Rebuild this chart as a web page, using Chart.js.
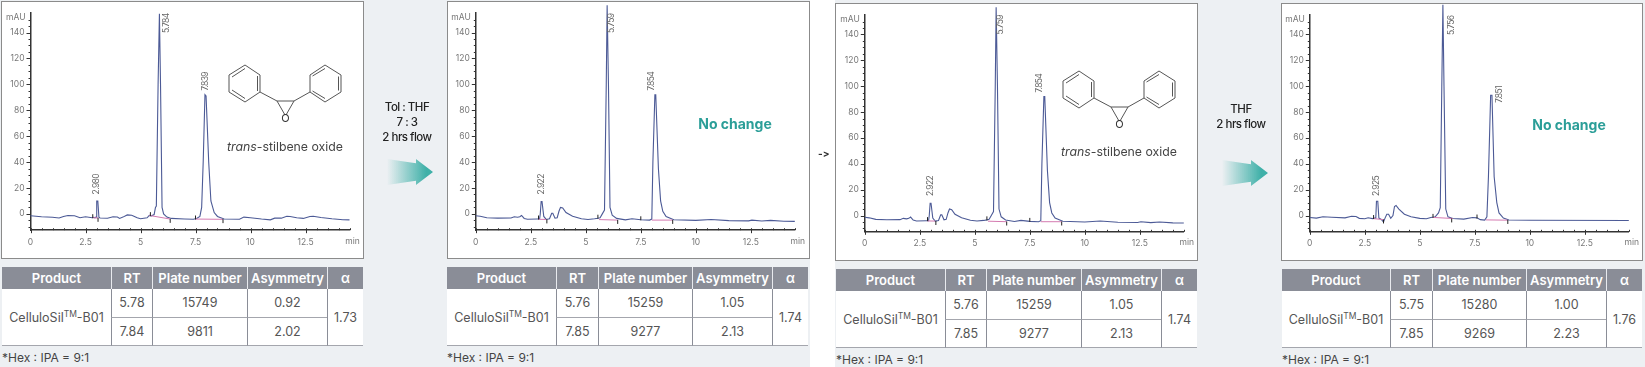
<!DOCTYPE html>
<html lang="en">
<head>
<meta charset="UTF-8">
<title>CelluloSil-B01 solvent flow test</title>
<script src="https://cdn.jsdelivr.net/npm/chart.js"></script>
<style>
  html, body { margin: 0; padding: 0; background: #fff; font-family: Inter, 'Noto Sans', sans-serif; }
  body { width: 1645px; height: 367px; position: relative; overflow: hidden; }
  .bg { position: absolute; top: 0; height: 367px; background: #edf0f3; }
  .panel { position: absolute; background: #fff; border: 1.5px solid #8b8b8b; box-sizing: border-box; }
  .panel canvas { position: absolute; left: 0; top: 0; }
  table { position: absolute; border-collapse: separate; border-spacing: 0; table-layout: fixed; background: #fff; font-size: 12.5px; color: #555; text-align: center; }
  th { box-sizing: border-box; background: #8a8d97; color: #fff; font-weight: 600; font-size: 13px; height: 22px; padding: 0; border-left: 1.5px solid #e8eaee; white-space: nowrap; overflow: hidden; }
  th:first-child { border-left: 0; }
  td { box-sizing: border-box; padding: 0; height: 28.5px; border-left: 1.5px solid #8a8d97; border-bottom: 1.5px solid #a4a6ad; white-space: nowrap; }
  td.product { border-left: 0; }
  sup { font-size: 8.5px; line-height: 0; }
  .note { position: absolute; font-size: 12px; color: #444; line-height: 14px; white-space: nowrap; }
  .flow { position: absolute; width: 90px; text-align: center; font-size: 11.5px; font-weight: 500; line-height: 15px; color: #222; letter-spacing: -0.5px; }
  .arrow { position: absolute; width: 46px; height: 26px; background: linear-gradient(90deg, rgba(63,176,168,0), #3fb0a8 85%); clip-path: polygon(0 0, 63% 16%, 63% 0, 100% 50%, 63% 100%, 63% 84%, 0 100%); }
  .nochange { position: absolute; width: 120px; text-align: center; font-size: 14px; font-weight: 700; color: #2b9e98; line-height: 18px; }
  .caption { position: absolute; width: 150px; text-align: center; font-size: 12.3px; color: #444; line-height: 16px; }
  .mol { position: absolute; }
  .sep { position: absolute; font-size: 10px; font-weight: 700; color: #333; line-height: 10px; font-feature-settings: 'calt' 0; }
</style>
</head>
<body>
<div class="bg" style="left:0;width:810px"></div>
<div class="bg" style="left:835px;width:810px"></div>

<svg width="0" height="0" style="position:absolute">
  <defs>
    <g id="stilbene" fill="none" stroke="#555" stroke-width="1">
      <path d="M2 20 L18 10 L33 20 L33 37 L18 47 L2 37 Z"/>
      <path d="M5 22 L18 13.5 M30.5 21 L30.5 36 M5 35 L18 43.5"/>
      <path d="M83 20 L98 10 L114 20 L114 37 L98 47 L83 37 Z"/>
      <path d="M85.500 21 L98 13.500 M111.500 21.500 L111.500 35.500 M85.500 36 L98 43.500"/>
      <path d="M33 37 L50 46 L67 46 L83 37 M50 46 L58 60 M67 46 L59 60"/>
      <text x="58.500" y="67" font-size="11" fill="#333" stroke="none" text-anchor="middle">O</text>
    </g>
  </defs>
</svg>

<script>
// retention time (min) / signal (mAU)
const timeA = [0,0.5,1,1.3,1.5,1.7,2,2.25,2.5,2.8,2.88,2.93,2.98,3.01,3.06,3.11,3.16,3.5,3.75,3.95,4.05,4.2,4.4,4.6,4.85,5,5.3,5.4,5.5,5.62,5.68,5.72,5.8,5.86,5.91,5.98,6.05,6.2,6.4,7,7.4,7.55,7.7,7.78,7.85,7.93,7.98,8.1,8.2,8.35,8.5,8.8,9.5,9.7,10,10.5,10.9,11.1,11.4,11.65,11.8,12.1,12.4,12.7,12.85,13.2,13.7,14.2,14.5];
const signalA = [-1.5,-2.2,-2.6,-3.2,-2,-1.2,-1.5,-3,-2.2,-3,-2.6,-3,-2.5,10,10,-2.5,-3.2,-3.4,-2.2,-2.4,-3.5,-2.5,-0.8,-1,-3,-3.7,-3,-1.2,-1.5,-0.5,5,6,100,154.5,100,5,0,-2.5,-3.5,-3.9,-4.2,-3.5,-2,5,40,92,91,40,10,1,-2,-4,-4.2,-2.5,-3,-4,-4.6,-3.3,-3.3,-1.8,-2,-3,-3.5,-2,-1.8,-2.8,-3.8,-4.5,-4.6];

const timeB = [0,0.2,0.5,1,1.6,1.75,1.9,2,2.08,2.2,2.35,2.8,2.9,2.93,2.97,3.01,3.09,3.2,3.35,3.45,3.5,3.6,3.7,3.78,3.85,3.95,4.1,4.4,4.8,5.1,5.4,5.55,5.65,5.75,5.85,5.93,5.97,6.03,6.1,6.2,6.4,6.8,7.1,7.5,7.9,8,8.05,8.14,8.18,8.3,8.4,8.5,8.65,9,10,10.7,11.5,12.4,12.55,13,13.4,14,14.5];
const signalB = [-1.4,-1.8,-3,-3.3,-3.2,-2.2,-2.6,-2.2,-1.2,-3.5,-4.2,-4,-4,0,9.5,9.5,-2,-4.3,-3.8,0.5,0.5,-3.3,-3,2,5,4.5,1,-1.8,-3.7,-4.3,-3.8,-3.4,-3,0,3,100,161,100,5,-1,-3.5,-4.6,-3.8,-4.5,-4.8,-4,40,92,92,35,10,2,-2,-4.5,-5,-4.3,-5.2,-5.4,-4.8,-5.5,-5,-5.7,-5.8];

const timeC = [0,0.3,0.6,1,1.6,1.9,2.1,2.25,2.5,2.65,2.85,2.95,3,3.03,3.09,3.14,3.25,3.35,3.42,3.5,3.58,3.68,3.78,3.85,3.92,4.05,4.3,4.6,5,5.3,5.5,5.7,5.85,5.93,6,6.05,6.1,6.18,6.28,6.5,7,7.4,7.6,7.75,7.95,8.05,8.12,8.22,8.28,8.38,8.5,8.6,8.8,9.05,10,14.5];
const signalC = [-1.5,-2,-1,-1.4,-1.8,-0.6,-0.8,-2.2,-2.5,-1.7,-2.4,-2,-2,11,11,-2,-3,-5,-2,1,1,-2.2,0,7,7.8,5,1,-1,-2.2,-2.5,-1.5,-1,2,6,100,163,100,5,-1,-2.3,-2.8,-1.5,-1.8,-3.2,-3.6,-1,30,93,93,30,10,2,-2,-3.5,-3.7,-3.9];

// integration baselines under the peaks, null breaks the line
const baseTimeA = [2.85,3.08,null,5.4,6.35,null,7.5,8.75];
const baseValA = [-3,-3.2,null,-1.2,-4,null,-4,-4.2];
const baseTimeB = [2.85,3.2,null,5.6,6.45,null,8,8.95];
const baseValB = [-4.2,-4.3,null,-4.4,-4.8,null,-4.8,-4.8];
const baseTimeC = [2.9,3.35,null,5.6,6.5,null,8,9];
const baseValC = [-2.4,-3.2,null,-1.5,-2.3,null,-3.4,-3.6];

// start and stop marks of the integrator
const cutTimeA = [2.83,3.07,5.45,6.35,7.5,8.75];
const cutValA = [-1.8,-4.6,-0.2,-5.4,-2.8,-5.6];
const cutTimeB = [2.85,3.23,5.55,6.45,7.5,8.95];
const cutValB = [-2.8,-5.8,-2.2,-6.2,-3.4,-6.2];
const cutTimeC = [2.9,3.35,5.6,6.45,7.6,9];
const cutValC = [-1.2,-4.6,-0.3,-3.8,-0.8,-5];

// peak retention labels: text, x (min), bottom of text (mAU)
const peakTextA = ['2.980','5.784','7.839'];
const peakXA = [3,6.2,7.95];
const peakYA = [15,139.6,95];
const peakTextB = ['2.922','5.759','7.854'];
const peakXB = [3,6.18,7.97];
const peakYB = [15,139.6,95];
const peakXC = [2.98,6.17,7.95];
const peakYC = [15,140,95];
const peakTextD = ['2.925','5.756','7.851'];
const peakXD = [3.02,6.45,8.64];
const peakYD = [15,139.6,87];

const xLabels = [0,2.5,5,7.5,10,12.5];
const yLabels = [0,20,40,60,80,100,120,140];
const xMinorStep = 0.5;
const yMinorStep = 5;

const tableHead = ['Product','RT','Plate number','Asymmetry','α'];
const rtA = ['5.78','7.84'], plateA = ['15749','9811'], asymA = ['0.92','2.02'], alphaA = '1.73';
const rtB = ['5.76','7.85'], plateB = ['15259','9277'], asymB = ['1.05','2.13'], alphaB = '1.74';
const rtD = ['5.75','7.85'], plateD = ['15280','9269'], asymD = ['1.00','2.23'], alphaD = '1.76';

function pairs(xs, ys) {
  return xs.map((x, i) => x === null ? { x: NaN, y: NaN } : { x: x, y: ys[i] });
}

// axis ticks, axis captions and the rotated peak labels
const traceExtras = {
  id: 'traceExtras',
  afterDraw(chart, args, opts) {
    const ctx = chart.ctx, xs = chart.scales.x, ys = chart.scales.y;
    const left = chart.chartArea.left, bottom = chart.chartArea.bottom;
    ctx.save();
    ctx.strokeStyle = '#333';
    ctx.lineWidth = 1;
    ctx.beginPath();
    for (let t = xs.min; t <= xs.max + 0.001; t += xMinorStep) {
      const major = xLabels.includes(t);
      const px = Math.round(xs.getPixelForValue(t)) + 0.5;
      ctx.moveTo(px, bottom - 2);
      ctx.lineTo(px, bottom + (major ? 3 : 0));
    }
    for (let v = -10; v <= 150; v += yMinorStep) {
      const major = yLabels.includes(v);
      const py = Math.round(ys.getPixelForValue(v)) + 0.5;
      ctx.moveTo(left, py);
      ctx.lineTo(left - (major ? 4 : 2), py);
    }
    ctx.stroke();

    ctx.fillStyle = '#777';
    ctx.font = '8.5px Inter';
    ctx.textBaseline = 'middle';
    ctx.textAlign = 'right';
    ctx.fillText('mAU', left - 5, chart.chartArea.top + 4);
    ctx.textAlign = 'center';
    ctx.fillText('min', xs.right + 3, bottom + 11);

    ctx.fillStyle = '#666';
    ctx.font = '8.5px Inter';
    ctx.letterSpacing = '-0.6px';
    ctx.textAlign = 'left';
    opts.text.forEach((label, i) => {
      ctx.save();
      ctx.translate(xs.getPixelForValue(opts.x[i]), ys.getPixelForValue(opts.y[i]));
      ctx.rotate(-Math.PI / 2);
      ctx.fillText(label, 0, 0);
      ctx.restore();
    });
    ctx.restore();
  }
};

function addPanel(p) {
  const box = document.createElement('div');
  box.className = 'panel';
  box.style.cssText = `left:${p.left}px;top:${p.top}px;width:${p.width}px;height:258px;`;
  const canvas = document.createElement('canvas');
  canvas.width = p.width - 3;
  canvas.height = 254;
  canvas.style.width = (p.width - 3) + 'px';
  canvas.style.height = '254px';
  box.appendChild(canvas);
  document.body.appendChild(box);

  new Chart(canvas.getContext('2d'), {
    type: 'scatter',
    plugins: [traceExtras],
    data: {
      datasets: [
        { data: pairs(p.time, p.signal), showLine: true, borderColor: '#4c5a96', borderWidth: 1.1, pointRadius: 0, clip: false, order: 2 },
        { data: pairs(p.baseTime, p.baseVal), showLine: true, borderColor: '#d47ab0', borderWidth: 1, pointRadius: 0, spanGaps: false, order: 1 },
        { data: pairs(p.cutTime, p.cutVal), showLine: false, pointStyle: 'line', rotation: 90, pointRadius: 2, pointBorderColor: '#222', pointBorderWidth: 1, order: 0 }
      ]
    },
    options: {
      responsive: false,
      animation: false,
      devicePixelRatio: 1,
      layout: { padding: { top: p.padTop, right: p.padRight, left: 0, bottom: 0 } },
      plugins: {
        legend: { display: false },
        tooltip: { enabled: false },
        traceExtras: { text: p.text, x: p.peakX, y: p.peakY }
      },
      scales: {
        x: {
          type: 'linear', min: 0, max: 14.5,
          afterBuildTicks: s => { s.ticks = xLabels.map(v => ({ value: v })); },
          afterFit: s => { s.height = p.axisHeight; },
          grid: { display: false, drawTicks: false },
          border: { color: '#333', width: 1.5 },
          ticks: { color: '#777', font: { family: 'Inter', size: 8.5 }, padding: 7, maxRotation: 0, callback: v => String(v) }
        },
        y: {
          type: 'linear', min: -12.6, max: 155,
          afterBuildTicks: s => { s.ticks = yLabels.map(v => ({ value: v })); },
          afterFit: s => { s.width = p.axisWidth; },
          grid: { display: false, drawTicks: false },
          border: { color: '#333', width: 1.5 },
          ticks: { color: '#777', font: { family: 'Inter', size: 8.5 }, padding: 6, callback: v => String(v) }
        }
      }
    }
  });
}

function addTable(left, top, cols, rt, plate, asym, alpha) {
  const t = document.createElement('table');
  t.style.left = left + 'px';
  t.style.top = top + 'px';
  t.style.width = cols.reduce((a, b) => a + b, 0) + 'px';
  t.innerHTML = '<colgroup>' + cols.map(c => `<col style="width:${c}px">`).join('') + '</colgroup>' +
    '<tr>' + tableHead.map(h => `<th>${h}</th>`).join('') + '</tr>' +
    `<tr><td class="product" rowspan="2">CelluloSil<sup>TM</sup>-B01</td><td>${rt[0]}</td><td>${plate[0]}</td><td>${asym[0]}</td><td rowspan="2">${alpha}</td></tr>` +
    `<tr><td>${rt[1]}</td><td>${plate[1]}</td><td>${asym[1]}</td></tr>`;
  document.body.appendChild(t);
  const note = document.createElement('div');
  note.className = 'note';
  note.textContent = '*Hex : IPA = 9:1';
  note.style.left = left + 'px';
  note.style.top = (top + 84) + 'px';
  document.body.appendChild(note);
}

function addLabel(cls, left, top, html) {
  const d = document.createElement('div');
  d.className = cls;
  d.style.left = left + 'px';
  d.style.top = top + 'px';
  d.innerHTML = html;
  document.body.appendChild(d);
}

function addMolecule(left, top) {
  const ns = 'http://www.w3.org/2000/svg';
  const s = document.createElementNS(ns, 'svg');
  s.setAttribute('class', 'mol');
  s.setAttribute('width', 118);
  s.setAttribute('height', 74);
  s.style.left = left + 'px';
  s.style.top = top + 'px';
  const u = document.createElementNS(ns, 'use');
  u.setAttribute('href', '#stilbene');
  s.appendChild(u);
  document.body.appendChild(s);
}

addPanel({ left: 1, top: 1, width: 363, padTop: 10.8, padRight: 12.5, axisWidth: 28.5, axisHeight: 25.8,
  time: timeA, signal: signalA, baseTime: baseTimeA, baseVal: baseValA, cutTime: cutTimeA, cutVal: cutValA,
  text: peakTextA, peakX: peakXA, peakY: peakYA });
addPanel({ left: 447, top: 1, width: 363, padTop: 10.8, padRight: 13.2, axisWidth: 27.8, axisHeight: 25.8,
  time: timeB, signal: signalB, baseTime: baseTimeB, baseVal: baseValB, cutTime: cutTimeB, cutVal: cutValB,
  text: peakTextB, peakX: peakXB, peakY: peakYB });
addPanel({ left: 835, top: 3, width: 363, padTop: 9.8, padRight: 12.2, axisWidth: 28.8, axisHeight: 26.2,
  time: timeB, signal: signalB, baseTime: baseTimeB, baseVal: baseValB, cutTime: cutTimeB, cutVal: cutValB,
  text: peakTextB, peakX: peakXC, peakY: peakYC });
addPanel({ left: 1281, top: 3, width: 362, padTop: 9.8, padRight: 12.2, axisWidth: 27.8, axisHeight: 26.2,
  time: timeC, signal: signalC, baseTime: baseTimeC, baseVal: baseValC, cutTime: cutTimeC, cutVal: cutValC,
  text: peakTextD, peakX: peakXD, peakY: peakYD });

addTable(2, 267, [109, 41, 95, 80, 36], rtA, plateA, asymA, alphaA);
addTable(447, 267, [109, 42, 94, 80, 36], rtB, plateB, asymB, alphaB);
addTable(836, 269, [109, 41, 95, 80, 36], rtB, plateB, asymB, alphaB);
addTable(1282, 269, [108, 42, 94, 80, 36], rtD, plateD, asymD, alphaD);

addLabel('flow', 362, 100, 'Tol : THF<br>7 : 3<br>2 hrs flow');
addLabel('flow', 1196, 102, 'THF<br>2 hrs flow');
addLabel('arrow', 387, 159, '');
addLabel('arrow', 1222, 160, '');
addLabel('nochange', 675, 115, 'No change');
addLabel('nochange', 1509, 116, 'No change');
addLabel('sep', 818, 148, '-&gt;');
addLabel('caption', 210, 139, '<i>trans</i>-stilbene oxide');
addLabel('caption', 1044, 144, '<i>trans</i>-stilbene oxide');
addMolecule(227, 55);
addMolecule(1061, 61);
</script>
</body>
</html>
